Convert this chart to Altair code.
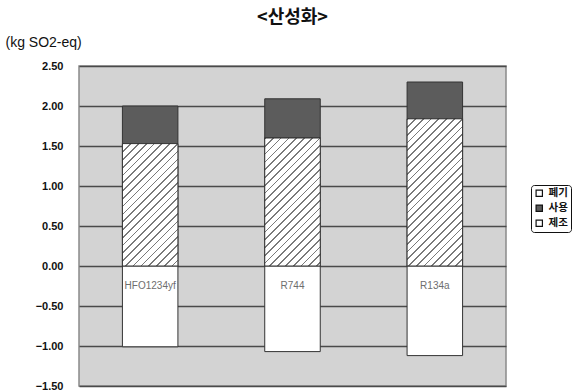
import math
import altair as alt
import pandas as pd

# Acidification potential per refrigerant, by life-cycle stage (kg SO2-eq)
models = ["HFO1234yf", "R744", "R134a"]
manufacture = [1.53, 1.60, 1.84]   # 제조
use_phase = [0.47, 0.49, 0.46]     # 사용
disposal = [-1.01, -1.07, -1.12]   # 폐기

stages = ["폐기", "사용", "제조"]
y_ticks = [-1.5, -1.0, -0.5, 0.0, 0.5, 1.0, 1.5, 2.0, 2.5]

PLOT_W, PLOT_H = 427, 320
Y_MIN, Y_MAX = -1.5, 2.5
PX_PER_UNIT = PLOT_H / (Y_MAX - Y_MIN)
PAD_INNER = 0.61
BAR_W = PLOT_W / len(models) * (1 - PAD_INNER)

rows = []
for m, mf, us, ds in zip(models, manufacture, use_phase, disposal):
    rows.append({"model": m, "stage": "제조", "lo": 0.0, "hi": mf})
    rows.append({"model": m, "stage": "사용", "lo": mf, "hi": mf + us})
    rows.append({"model": m, "stage": "폐기", "lo": ds, "hi": 0.0})
df = pd.DataFrame(rows)

x_enc = alt.X("model:N", sort=models, axis=None,
              scale=alt.Scale(paddingInner=PAD_INNER, paddingOuter=PAD_INNER / 2))
y_scale = alt.Scale(domain=[Y_MIN, Y_MAX], nice=False, zero=False)

base = alt.Chart(df)

stacked = base.mark_bar(stroke="#333333", strokeWidth=1).encode(
    x=x_enc,
    y=alt.Y("lo:Q", scale=y_scale,
            axis=alt.Axis(values=y_ticks, tickCount=len(y_ticks) + 2, format=".2f",
                          grid=True, gridColor="#4a4a4a", gridWidth=1.3,
                          ticks=False, domain=False, labelOverlap=False,
                          labelFont="Liberation Sans", labelFontWeight="bold",
                          labelFontSize=11, labelColor="#111111", labelPadding=16,
                          title="(kg SO2-eq)", titleAngle=0, titleAlign="left",
                          titleBaseline="middle", titleX=-74, titleY=-24,
                          titleFont="Liberation Sans", titleFontSize=14,
                          titleFontWeight="normal", titleColor="#111111")),
    y2="hi:Q",
    fill=alt.Fill("stage:N",
                  scale=alt.Scale(domain=stages, range=["#ffffff", "#5c5c5c", "#ffffff"]),
                  legend=alt.Legend(title=None, orient="none", legendX=452, legendY=119,
                                    symbolType="square", symbolSize=40,
                                    symbolStrokeColor="#111111", symbolStrokeWidth=1.2,
                                    labelFont="Noto Sans CJK KR", labelFontWeight="bold",
                                    labelFontSize=10.5, labelColor="#111111",
                                    rowPadding=3, padding=3, strokeColor="#111111",
                                    cornerRadius=3, fillColor="#ffffff")),
)


def hatch(height_px, width_px, period=5.5, line=1.2):
    """Diagonal '/' stripes as a hard-stop linear gradient over the bar box."""
    k = (width_px + height_px) / (width_px ** 2 + height_px ** 2)
    span = (width_px + height_px) / math.sqrt(2)
    stops = []
    pos = 0.0
    while pos < span:
        a = pos / span
        b = min((pos + line) / span, 1.0)
        c = min((pos + period) / span, 1.0)
        stops += [
            {"offset": a, "color": "#7a7a7a"},
            {"offset": b, "color": "#7a7a7a"},
            {"offset": b, "color": "#ffffff"},
            {"offset": c, "color": "#ffffff"},
        ]
        pos += period
    return {"gradient": "linear", "x1": 0, "y1": 0,
            "x2": k * width_px, "y2": k * height_px, "stops": stops}


hatched_layers = []
for m, mf in zip(models, manufacture):
    layer = base.transform_filter(
        (alt.datum.model == m) & (alt.datum.stage == "제조")
    ).mark_bar(fill=hatch(mf * PX_PER_UNIT, BAR_W), stroke="#333333", strokeWidth=1).encode(
        x=x_enc, y=alt.Y("lo:Q", scale=y_scale), y2="hi:Q"
    )
    hatched_layers.append(layer)

labels = alt.Chart(pd.DataFrame({"model": models})).mark_text(
    font="Liberation Sans", fontSize=10, color="#6e6e6e", baseline="middle"
).encode(x=x_enc, y=alt.value(220), text="model:N")

chart = alt.layer(stacked, *hatched_layers, labels).properties(
    width=PLOT_W, height=PLOT_H,
    autosize=alt.AutoSizeParams(type="none"),
    padding={"left": 79, "top": 66, "right": 71, "bottom": 6},
    title=alt.TitleParams("<산성화>", font="Noto Sans CJK KR", fontSize=18,
                          fontWeight="bold", color="#111111", anchor="middle",
                          frame="group", offset=8),
).configure(
    background="#ffffff",
    view=alt.ViewConfig(fill="#d3d3d3", stroke="#8a8a8a", strokeWidth=1.5),
)

chart.save("out.html", embed_options={"renderer": "svg", "actions": False})
